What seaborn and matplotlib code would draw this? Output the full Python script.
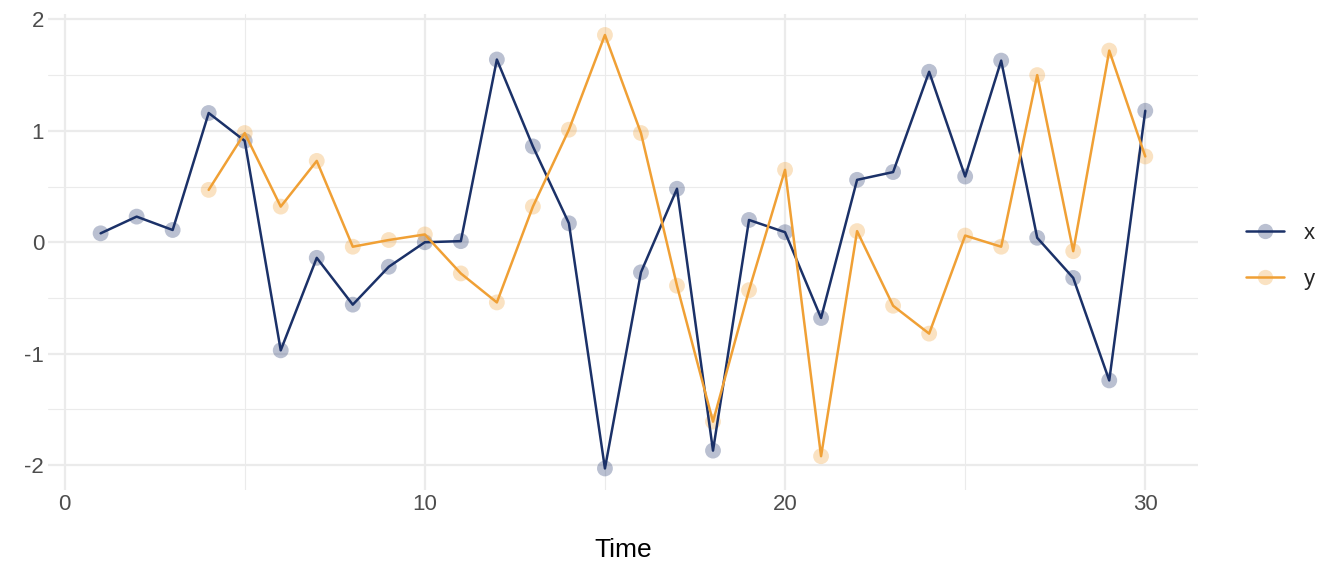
import numpy as np
import pandas as pd
import seaborn as sns
import matplotlib
matplotlib.use("Agg")
from matplotlib import pyplot as plt
from matplotlib.lines import Line2D
from matplotlib.colors import to_rgba

# values
time = list(range(1, 31))
x_vals = [0.08, 0.23, 0.11, 1.16, 0.91, -0.97, -0.14, -0.56, -0.22, 0.00,
          0.01, 1.64, 0.86, 0.17, -2.03, -0.27, 0.48, -1.87, 0.20, 0.09,
          -0.68, 0.56, 0.63, 1.53, 0.59, 1.63, 0.04, -0.32, -1.24, 1.18]
y_vals = [np.nan, np.nan, np.nan, 0.47, 0.98, 0.32, 0.73, -0.04, 0.02, 0.07,
          -0.28, -0.54, 0.32, 1.01, 1.86, 0.98, -0.39, -1.61, -0.43, 0.65,
          -1.92, 0.10, -0.57, -0.82, 0.06, -0.04, 1.50, -0.08, 1.72, 0.77]
series_names = ["x", "y"]
colors = {"x": "#1b3168", "y": "#f0a035"}

df = pd.DataFrame({"Time": time, "x": x_vals, "y": y_vals})
long = df.melt(id_vars="Time", var_name="series", value_name="value").dropna()

sns.set_style("white")
plt.rcParams['font.family'] = ['Liberation Sans', 'DejaVu Sans']

fig = plt.figure(figsize=(13.44, 5.76), dpi=100)
ax = fig.add_axes([0.036, 0.149, 0.855, 0.827])

# grid like theme_minimal
for v in [5, 15, 25]:
    ax.axvline(v, color="#ebebeb", lw=0.8, zorder=0)
for v in [-1.5, -0.5, 0.5, 1.5]:
    ax.axhline(v, color="#ebebeb", lw=0.8, zorder=0)
for v in [0, 10, 20, 30]:
    ax.axvline(v, color="#ebebeb", lw=1.6, zorder=0)
for v in [-2, -1, 0, 1, 2]:
    ax.axhline(v, color="#ebebeb", lw=1.6, zorder=0)

sns.lineplot(data=long, x="Time", y="value", hue="series", palette=colors,
             lw=1.8, ax=ax, legend=False, zorder=3)
sns.scatterplot(data=long, x="Time", y="value", hue="series", palette=colors,
                s=130, alpha=0.3, linewidth=0, ax=ax, legend=False, zorder=2)

ax.set_xlim(-0.45, 31.45)
ax.set_ylim(-2.225, 2.05)
ax.set_xticks([0, 10, 20, 30])
ax.set_yticks([-2, -1, 0, 1, 2])
ax.set_yticklabels(["-2", "-1", "0", "1", "2"])
for s in ax.spines.values():
    s.set_visible(False)
ax.tick_params(length=0, labelsize=16, labelcolor="#4d4d4d", pad=3)
ax.set_xlabel("Time", fontsize=19, color="black", labelpad=16)
ax.set_ylabel("")

handles = [Line2D([0], [0], color=colors[n], lw=1.8, marker="o", markersize=11,
                  markerfacecolor=to_rgba(colors[n], 0.3), markeredgewidth=0)
           for n in series_names]
fig.legend(handles, series_names, loc="center left", bbox_to_anchor=(0.912, 0.555),
           frameon=False, fontsize=16, handlelength=1.7, labelspacing=1.1,
           handletextpad=0.9)

fig.savefig("out.png", dpi=100)
